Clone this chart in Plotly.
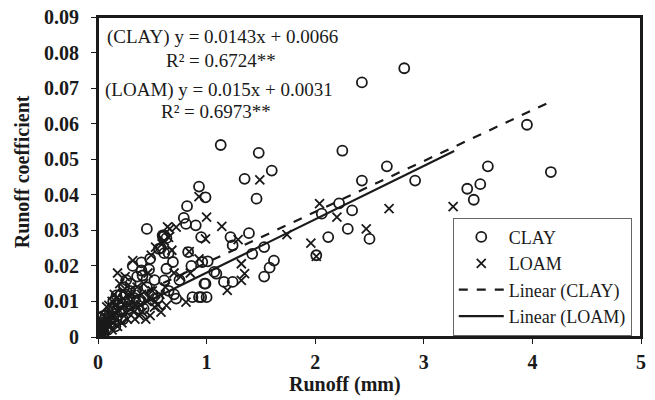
import plotly.graph_objects as go

# CLAY observations (runoff mm, runoff coefficient)
clay_x = [2.82, 2.43, 3.95, 4.17, 3.59, 3.52, 3.40, 3.46, 2.66, 2.43, 2.92, 2.34, 2.25, 2.22, 2.06, 2.30, 2.12, 2.50, 2.01,
          1.13, 1.48, 1.60, 1.35, 1.46, 0.93, 0.99, 0.95, 1.22, 1.39, 1.24, 1.53,
          1.62, 1.58, 1.53, 1.24, 1.16, 0.99, 1.00, 0.95, 1.07, 0.96, 1.42,
          0.45, 0.82, 0.79, 0.90, 0.81, 0.61, 0.83, 1.01, 1.09, 0.98, 0.87, 0.93, 0.72, 0.63, 0.69, 0.61, 0.17, 0.40, 0.41,
          0.56, 0.65, 0.61, 0.63, 0.60, 0.58, 0.595,
          0.30, 0.35, 0.25, 0.20, 0.45, 0.50, 0.55, 0.38, 0.28, 0.15, 0.10, 0.05, 0.08, 0.12, 0.18, 0.22, 0.02, 0.03, 0.06,
          0.14, 0.32, 0.36, 0.47, 0.52, 0.42, 0.65, 0.70, 0.75, 0.86, 0.48, 0.40, 0.26, 0.01, 0.04, 0.09, 0.16,
          0.03, 0.05, 0.07, 0.11, 0.13, 0.17, 0.19, 0.21, 0.23, 0.27, 0.29, 0.33, 0.37, 0.43, 0.24]
clay_y = [0.0756, 0.0716, 0.0597, 0.0464, 0.0480, 0.0430, 0.0417, 0.0386, 0.0480, 0.0440, 0.0440, 0.0356, 0.0524, 0.0376, 0.0347, 0.0304, 0.0281, 0.0276, 0.0230,
          0.0540, 0.0518, 0.0468, 0.0445, 0.0389, 0.0423, 0.0393, 0.0281, 0.0281, 0.0292, 0.0258, 0.0253,
          0.0215, 0.0195, 0.0170, 0.0155, 0.0155, 0.0150, 0.0112, 0.0112, 0.0183, 0.0211, 0.0234,
          0.0304, 0.0368, 0.0335, 0.0314, 0.0318, 0.0286, 0.0239, 0.0213, 0.0178, 0.0150, 0.0112, 0.0112, 0.0108, 0.0192, 0.0211, 0.0159, 0.0117, 0.0187, 0.0173,
          0.0248, 0.0236, 0.0236, 0.0278, 0.0282, 0.0250, 0.0286,
          0.015, 0.013, 0.012, 0.010, 0.014, 0.012, 0.011, 0.010, 0.008, 0.008, 0.006, 0.003, 0.004, 0.005, 0.006, 0.007, 0.001, 0.002, 0.005,
          0.010, 0.020, 0.017, 0.019, 0.016, 0.008, 0.013, 0.012, 0.016, 0.020, 0.022, 0.021, 0.016, 0.0005, 0.0015, 0.002, 0.003,
          0.003, 0.001, 0.006, 0.004, 0.008, 0.005, 0.009, 0.012, 0.005, 0.010, 0.013, 0.011, 0.008, 0.011, 0.014]

# LOAM observations
loam_x = [2.68, 3.27, 2.04, 2.20, 2.47, 1.96, 2.01, 1.49, 1.00, 1.14, 1.29, 1.74, 1.32, 1.35, 1.32, 1.19, 0.99, 0.93,
          0.72, 0.66, 0.49, 0.32, 0.18, 0.84, 0.93, 0.81, 0.63, 0.52, 0.10, 0.08, 0.53, 0.68, 0.59, 0.65, 0.64, 0.61,
          0.20, 0.25, 0.28, 0.30, 0.35, 0.40, 0.42, 0.45, 0.50, 0.55, 0.58, 0.38, 0.33, 0.27, 0.22, 0.18, 0.14, 0.12,
          0.10, 0.07, 0.05, 0.04, 0.03, 0.02, 0.01, 0.06, 0.15, 0.16, 0.24, 0.36, 0.46, 0.70, 0.76, 0.85, 0.62, 0.48,
          0.44, 0.09, 0.13, 0.19,
          0.02, 0.04, 0.06, 0.08, 0.11, 0.13, 0.17, 0.21, 0.23, 0.26, 0.29, 0.31, 0.34, 0.39, 0.41, 0.47, 0.53, 0.57, 0.02, 0.015]
loam_y = [0.0361, 0.0367, 0.0375, 0.0337, 0.0304, 0.0264, 0.0227, 0.0442, 0.0337, 0.0311, 0.0274, 0.0288, 0.0206, 0.0178, 0.0159, 0.0131, 0.0276, 0.0395,
          0.0309, 0.0304, 0.0230, 0.0215, 0.0180, 0.0240, 0.0220, 0.0098, 0.0089, 0.0084, 0.0089, 0.0085, 0.0253, 0.0244, 0.0262, 0.0280, 0.0310, 0.0270,
          0.015, 0.017, 0.012, 0.010, 0.009, 0.012, 0.015, 0.010, 0.013, 0.009, 0.007, 0.006, 0.007, 0.005, 0.004, 0.003, 0.004, 0.007,
          0.003, 0.002, 0.002, 0.004, 0.001, 0.002, 0.001, 0.006, 0.012, 0.009, 0.009, 0.014, 0.018, 0.018, 0.017, 0.018, 0.014, 0.006,
          0.005, 0.005, 0.002, 0.007,
          0.004, 0.001, 0.003, 0.005, 0.006, 0.010, 0.011, 0.010, 0.013, 0.007, 0.009, 0.012, 0.005, 0.009, 0.007, 0.011, 0.010, 0.012, 0.0005, 0.002]

# Fitted trend lines
clay_slope, clay_intercept, clay_xmax = 0.0143, 0.0066, 4.18
loam_slope, loam_intercept, loam_xmax = 0.015, 0.0031, 3.28

font_family = "Liberation Serif, Times New Roman, serif"
ink = "#1a1a1a"

fig = go.Figure()
fig.add_trace(go.Scatter(x=clay_x, y=clay_y, mode="markers", name="CLAY",
                         marker=dict(symbol="circle-open", size=10, color=ink, line=dict(width=1.8, color=ink))))
fig.add_trace(go.Scatter(x=loam_x, y=loam_y, mode="markers", name="LOAM",
                         marker=dict(symbol="x-thin-open", size=9, color=ink, line=dict(width=1.8, color=ink))))
fig.add_trace(go.Scatter(x=[0, clay_xmax], y=[clay_intercept, clay_slope * clay_xmax + clay_intercept],
                         mode="lines", name="Linear (CLAY)", line=dict(color=ink, width=2.2, dash="dash")))
fig.add_trace(go.Scatter(x=[0, loam_xmax], y=[loam_intercept, loam_slope * loam_xmax + loam_intercept],
                         mode="lines", name="Linear (LOAM)", line=dict(color=ink, width=2.2)))

ann_font = dict(family=font_family, size=19, color=ink)
fig.add_annotation(x=0.06, y=0.0845, text="(CLAY) y = 0.0143x + 0.0066", showarrow=False,
                   xanchor="left", yanchor="middle", font=ann_font)
fig.add_annotation(x=1.13, y=0.0778, text="R² = 0.6724**", showarrow=False,
                   xanchor="center", yanchor="middle", font=ann_font)
fig.add_annotation(x=0.05, y=0.0696, text="(LOAM) y = 0.015x + 0.0031", showarrow=False,
                   xanchor="left", yanchor="middle", font=ann_font)
fig.add_annotation(x=1.09, y=0.0634, text="R² = 0.6973**", showarrow=False,
                   xanchor="center", yanchor="middle", font=ann_font)

title_font = dict(family=font_family, size=20, weight="bold", color=ink)
fig.add_annotation(xref="paper", yref="paper", x=0.455, y=-0.148, text="Runoff (mm)", showarrow=False,
                   xanchor="center", yanchor="middle", font=title_font)
fig.add_annotation(xref="paper", yref="paper", x=-0.141, y=0.516, text="Runoff coefficient", showarrow=False,
                   xanchor="center", yanchor="middle", textangle=-90, font=title_font)

# plot-area frame
fig.add_shape(type="rect", xref="paper", yref="paper", x0=0, y0=0, x1=1, y1=1,
              line=dict(color=ink, width=2), fillcolor="rgba(0,0,0,0)", layer="above")

fig.update_layout(
    width=655, height=400,
    margin=dict(l=98, r=14, t=17, b=63),
    paper_bgcolor="white", plot_bgcolor="white",
    font=dict(family=font_family, color=ink),
    showlegend=True,
    legend=dict(x=0.983, y=0.004, xanchor="right", yanchor="bottom",
                bgcolor="white", bordercolor="#666666", borderwidth=1,
                font=dict(family=font_family, size=18, color=ink),
                itemwidth=45, tracegroupgap=0),
    xaxis=dict(range=[0, 5], dtick=1, showgrid=False, zeroline=False,
               showline=True, linecolor=ink, linewidth=2, mirror=True,
               ticks="outside", ticklen=5, tickcolor=ink, automargin=False, ticklabelstandoff=1,
               tickfont=dict(family=font_family, size=20, weight="bold", color=ink)),
    yaxis=dict(range=[0, 0.09001], dtick=0.01, showgrid=False, zeroline=False,
               showline=True, linecolor=ink, linewidth=2, mirror=True,
               ticks="outside", ticklen=5, tickcolor=ink, automargin=False, ticklabelstandoff=8,
               tickfont=dict(family=font_family, size=20, weight="bold", color=ink)),
)

# remove the browser's default 8px body margin so the figure fills the 655x400 window
fig.write_html("out.html", config={"displayModeBar": False},
               post_script="document.body.style.margin='0';")
